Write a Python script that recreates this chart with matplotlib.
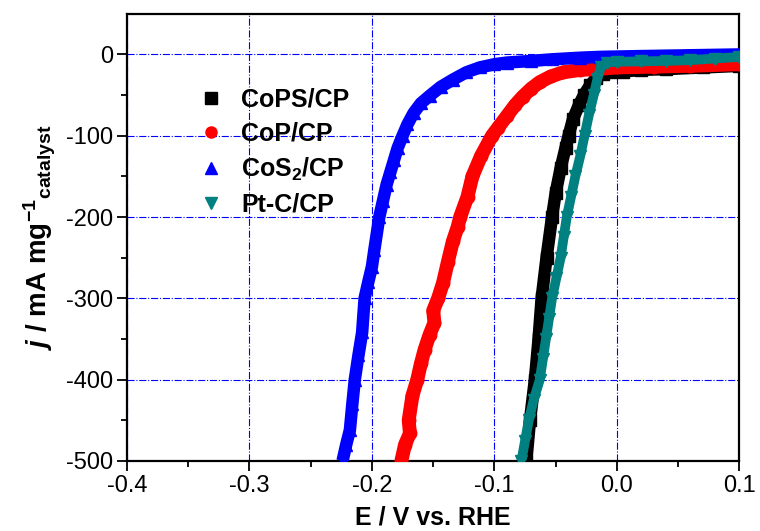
import numpy as np
import matplotlib
matplotlib.use('Agg')
import matplotlib.pyplot as plt
from matplotlib.lines import Line2D

plt.rcParams['font.family'] = ['Liberation Sans', 'DejaVu Sans']
plt.rcParams['axes.unicode_minus'] = False
plt.rcParams['mathtext.fontset'] = 'custom'
plt.rcParams['mathtext.rm'] = 'Liberation Sans:bold'
plt.rcParams['mathtext.it'] = 'Liberation Sans:bold:italic'
plt.rcParams['mathtext.bf'] = 'Liberation Sans:bold'

# Curvas de polarizacion (E en V vs RHE, j en mA/mg)
E_cops = [-0.074, -0.071, -0.067, -0.064, -0.0615, -0.0575, -0.053, -0.050, -0.046,
          -0.042, -0.0395, -0.036, -0.031, -0.027, -0.022, -0.017, -0.011, -0.005,
          0.005, 0.020, 0.040, 0.070, 0.100]
j_cops = [-500, -450, -400, -350, -300, -250, -200, -170, -140,
          -115, -100, -80, -62, -50, -38, -29, -24, -22,
          -21, -19, -18, -16, -14]

E_cop = [-0.176, -0.173, -0.169, -0.170, -0.167, -0.163, -0.160, -0.157, -0.153,
         -0.149, -0.150, -0.146, -0.142, -0.138, -0.134, -0.130, -0.128, -0.122,
         -0.118, -0.111, -0.102, -0.097, -0.090, -0.083, -0.077, -0.070, -0.063,
         -0.054, -0.044, -0.030, -0.017, 0.000, 0.030, 0.060, 0.100]
j_cop = [-500, -480, -466, -450, -420, -400, -380, -363, -345,
         -330, -315, -300, -281, -255, -230, -212, -200, -175,
         -150, -125, -100, -90, -76, -62, -52, -42, -34,
         -27, -22, -19, -18, -16, -15, -14, -12]

E_cos2 = [-0.224, -0.221, -0.218, -0.216, -0.214, -0.211, -0.208, -0.206, -0.203,
          -0.200, -0.198, -0.194, -0.191, -0.188, -0.185, -0.182, -0.179, -0.175,
          -0.171, -0.166, -0.160, -0.153, -0.144, -0.134, -0.123, -0.112, -0.100,
          -0.090, -0.070, -0.053, -0.030, -0.014, 0.020, 0.060, 0.100]
j_cos2 = [-500, -480, -462, -430, -400, -370, -342, -300, -280,
          -261, -240, -200, -180, -160, -145, -130, -115, -100,
          -86, -72, -60, -51, -40, -31, -22, -16, -12,
          -10, -8, -6, -4, -3, -2, -1, 0]

E_ptc = [-0.078, -0.075, -0.072, -0.068, -0.063, -0.0605, -0.058, -0.0555, -0.053,
         -0.0495, -0.046, -0.0435, -0.041, -0.0375, -0.034, -0.030, -0.0265, -0.023,
         -0.019, -0.016, -0.013, -0.008, 0.000, 0.020, 0.040, 0.060, 0.080, 0.100]
j_ptc = [-500, -475, -450, -425, -400, -375, -350, -325, -300,
         -275, -250, -225, -200, -175, -150, -125, -100, -75,
         -50, -30, -15, -10, -9, -8.5, -8, -7, -5, -3]

etiquetas = ['CoPS/CP', 'CoP/CP', r'CoS$_2$/CP', 'Pt-C/CP']
colores = ['black', 'red', 'blue', '#008080']
marcadores = ['s', 'o', '^', 'v']

fig = plt.figure(figsize=(7.6, 5.31), dpi=100)
ax = fig.add_axes([0.167, 0.132, 0.806, 0.842])

series = [(E_cops, j_cops), (E_cop, j_cop), (E_cos2, j_cos2), (E_ptc, j_ptc)]
anchos = [9, 10, 9, 7]
for (E, j), c, m, lw in zip(series, colores, marcadores, anchos):
    ax.plot(E, j, '-', color=c, lw=lw, solid_capstyle='butt', zorder=3)
    ax.plot(E, j, m, color=c, ms=9, mec=c, zorder=3)

ax.set_xlim(-0.4, 0.1)
ax.set_ylim(-500, 50)
ax.set_yticks([0, -100, -200, -300, -400, -500])
ax.set_yticks(np.arange(-450, 50, 100), minor=True)
ax.set_xticks(np.arange(-0.4, 0.101, 0.1))
ax.set_xticks(np.arange(-0.35, 0.1, 0.1), minor=True)
ax.set_xticklabels(['-0.4', '-0.3', '-0.2', '-0.1', '0.0', '0.1'])
ax.tick_params(which='major', direction='out', length=7, width=1.3, labelsize=17, pad=3)
ax.tick_params(which='minor', direction='out', length=4.5, width=1.3)
for s in ax.spines.values():
    s.set_linewidth(1.6)

ax.grid(True, which='major', color='blue', ls='-.', lw=0.8)
ax.set_axisbelow(True)

ax.set_xlabel('E / V vs. RHE', fontsize=18, fontweight='bold', labelpad=6)
ax.set_ylabel(r'$\it{j}$ / mA mg$^{-1}{}_{\mathrm{catalyst}}$', fontsize=20,
              fontweight='bold', labelpad=6)

handles = [Line2D([], [], ls='none', marker=m, color=c, ms=8) for c, m in zip(colores, marcadores)]
leg = ax.legend(handles, etiquetas, loc='upper left', bbox_to_anchor=(0.08, 0.885),
                frameon=False, handlelength=1.0, handletextpad=0.7, labelspacing=0.4,
                prop={'size': 18, 'weight': 'bold'})

fig.savefig('out.png', dpi=100)
